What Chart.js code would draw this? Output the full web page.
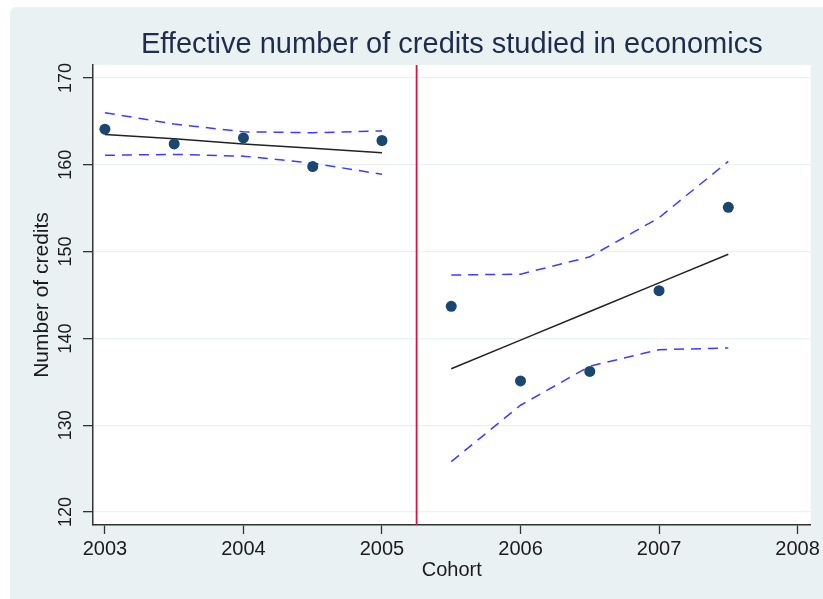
<!DOCTYPE html>
<html>
<head>
<meta charset="utf-8">
<title>Effective number of credits studied in economics</title>
<script src="https://cdn.jsdelivr.net/npm/chart.js@4/dist/chart.umd.min.js"></script>
<style>
  html, body { margin: 0; padding: 0; background: #fff; }
  #chart { display: block; }
</style>
</head>
<body>
<canvas id="chart" width="823" height="599"></canvas>
<script>
// ── DATA ─────────────────────────────────────────────────────────────────────
const cohorts  = [2003, 2003.5, 2004, 2004.5, 2005, 2005.5, 2006, 2006.5, 2007, 2007.5];
const credits  = [164.1, 162.4, 163.1, 159.8, 162.8, 143.7, 135.1, 136.2, 145.5, 155.1];
const fitted   = [163.5, 163.0, 162.4, 161.9, 161.4, 136.5, 139.8, 143.1, 146.4, 149.7];
const ciUpper  = [166.0, 164.7, 163.8, 163.7, 163.9, 147.3, 147.4, 149.4, 153.9, 160.4];
const ciLower  = [161.1, 161.2, 161.0, 160.2, 158.9, 125.8, 132.3, 136.8, 138.7, 138.9];
const cutoff   = 2005.25;
const xTicks   = [2003, 2004, 2005, 2006, 2007, 2008];
const yTicks   = [120, 130, 140, 150, 160, 170];
const xRange   = [2002.914, 2008.094];
const yRange   = [118.5, 171.5];

const TITLE  = 'Effective number of credits studied in economics';
const XTITLE = 'Cohort';
const YTITLE = 'Number of credits';

// ── HELPERS ──────────────────────────────────────────────────────────────────
// pair x/y arrays, break the line at the cutoff so each side is its own segment
function split(ys) {
  const pts = [];
  cohorts.forEach((x, i) => {
    if (i > 0 && cohorts[i - 1] < cutoff && x > cutoff) pts.push({ x: cutoff, y: null });
    pts.push({ x, y: ys[i] });
  });
  return pts;
}

const FONT   = '"Liberation Sans", Arial, sans-serif';
const PANEL  = '#eaf1f3';
const GRID   = '#eaf2f3';
const NAVY   = '#1a476f';
const CI_C   = '#3c3cff';
const TEXT_C = '#1b1b1b';

// ── BACKGROUND, TITLE, Y TICK LABELS ────────────────────────────────────────
const stataLook = {
  id: 'stataLook',
  beforeDraw(chart) {
    const { ctx, chartArea: a } = chart;
    ctx.save();
    ctx.fillStyle = '#fff';
    ctx.fillRect(0, 0, chart.width, chart.height);
    ctx.fillStyle = PANEL;
    ctx.beginPath();
    ctx.roundRect(10, 7, chart.width - 10, chart.height - 7, [6, 0, 0, 0]);
    ctx.fill();
    ctx.fillStyle = '#fff';
    ctx.fillRect(a.left, a.top, a.right - a.left, a.bottom - a.top);
    ctx.restore();
  },
  afterDraw(chart) {
    const { ctx, chartArea: a } = chart;
    const y = chart.scales.y;
    ctx.save();
    ctx.fillStyle = '#1f2c4d';
    ctx.font = '29px ' + FONT;
    ctx.textAlign = 'center';
    ctx.textBaseline = 'alphabetic';
    ctx.fillText(TITLE, (a.left + a.right) / 2, 53);

    // vertical tick labels on the y axis
    ctx.fillStyle = TEXT_C;
    ctx.font = '18px ' + FONT;
    ctx.textBaseline = 'middle';
    y.ticks.forEach(t => {
      ctx.save();
      ctx.translate(66.5, y.getPixelForValue(t.value));
      ctx.rotate(-Math.PI / 2);
      ctx.fillText(String(t.value), 0, 0);
      ctx.restore();
    });
    ctx.restore();
  }
};

// ── CHART ────────────────────────────────────────────────────────────────────
new Chart(document.getElementById('chart'), {
  type: 'scatter',
  data: {
    datasets: [
      { label: 'credits', data: split(credits).filter(p => p.y !== null),
        showLine: false, pointRadius: 5.5, pointHoverRadius: 5.5,
        backgroundColor: NAVY, borderColor: NAVY, borderWidth: 0 },
      { label: 'fit', data: split(fitted), showLine: true, spanGaps: false,
        borderColor: '#222', borderWidth: 1.5, pointRadius: 0 },
      { label: 'upper', data: split(ciUpper), showLine: true, spanGaps: false,
        borderColor: CI_C, borderWidth: 1.5, borderDash: [10, 7], pointRadius: 0 },
      { label: 'lower', data: split(ciLower), showLine: true, spanGaps: false,
        borderColor: CI_C, borderWidth: 1.5, borderDash: [10, 7], pointRadius: 0 },
      { label: 'cutoff', data: [{ x: cutoff, y: yRange[0] }, { x: cutoff, y: yRange[1] }],
        showLine: true, borderColor: '#d5143f', borderWidth: 1.8, pointRadius: 0 }
    ]
  },
  options: {
    responsive: false,
    animation: false,
    devicePixelRatio: 1,
    layout: { padding: { left: 0, top: 65, right: 10, bottom: 0 } },
    plugins: { legend: { display: false }, tooltip: { enabled: false }, title: { display: false } },
    scales: {
      x: {
        type: 'linear', min: xRange[0], max: xRange[1],
        afterBuildTicks: s => { s.ticks = xTicks.map(v => ({ value: v })); },
        afterFit: s => { s.height = 74; },
        grid: { drawOnChartArea: false, drawTicks: true, tickLength: 9, tickColor: '#333', tickWidth: 1.3 },
        border: { color: '#333', width: 1.5 },
        ticks: { color: TEXT_C, font: { family: FONT, size: 20 }, padding: 3, callback: v => String(v) },
        title: { display: true, text: XTITLE, color: TEXT_C, font: { family: FONT, size: 20 },
                 padding: { top: 0, bottom: 17 } }
      },
      y: {
        type: 'linear', min: yRange[0], max: yRange[1],
        afterBuildTicks: s => { s.ticks = yTicks.map(v => ({ value: v })); },
        afterFit: s => { s.width = 93; },
        grid: { color: GRID, lineWidth: 1.3, drawTicks: true, tickLength: 10, tickColor: '#333', tickWidth: 1.3 },
        border: { color: '#333', width: 1.5 },
        ticks: { display: false },
        title: { display: true, text: YTITLE, color: TEXT_C, font: { family: FONT, size: 21 },
                 padding: { top: 30, bottom: 0 } }
      }
    }
  },
  plugins: [stataLook]
});
</script>
</body>
</html>
